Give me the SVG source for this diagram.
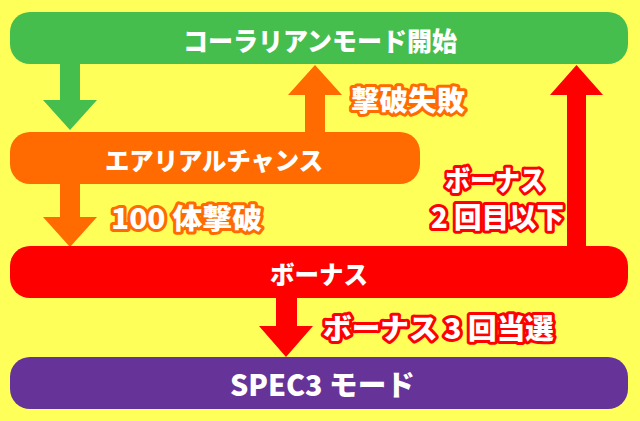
<svg xmlns="http://www.w3.org/2000/svg" width="640" height="421" viewBox="0 0 640 421">
<style>
text{font-family:"Noto Sans CJK JP","Noto Sans",sans-serif;font-weight:900;fill:#fff;dominant-baseline:central}
.in{font-size:25px}
.lo{font-size:28px;stroke:#FF6B00;stroke-width:6;stroke-linejoin:round;paint-order:stroke}
.lr{font-size:28px;stroke:#FF0000;stroke-width:6;stroke-linejoin:round;paint-order:stroke}
</style>
<rect width="640" height="421" fill="#FFFF5A"/>
<g id="connectors">
<polygon fill="#45BE4E" points="60,62 80,62 80,100 97,100 70,130 43,100 60,100"/>
<polygon fill="#FF6B00" points="60,182 80,182 80,217 97,217 70,247 43,217 60,217"/>
<polygon fill="#FF6B00" points="305,134 325,134 325,95 342,95 315,65 288,95 305,95"/>
<polygon fill="#FF0000" points="567,248 586,248 586,95 603,95 576.5,65 550,95 567,95"/>
<polygon fill="#FF0000" points="276,297 297,297 297,326 313,326 286,357 259,326 276,326"/>
</g>
<g id="labels">
<text class="lo" x="351" y="98.5" textLength="114" lengthAdjust="spacingAndGlyphs">撃破失敗</text>
<text class="lo" x="111" y="216.5" textLength="151" lengthAdjust="spacingAndGlyphs">100 体撃破</text>
<text class="lr" x="445" y="178.5" textLength="100" lengthAdjust="spacingAndGlyphs">ボーナス</text>
<text class="lr" x="431" y="216" textLength="133" lengthAdjust="spacingAndGlyphs">2 回目以下</text>
<text class="lr" x="323" y="327" textLength="231" lengthAdjust="spacingAndGlyphs">ボーナス 3 回当選</text>
</g>
<g id="node-coralian">
<rect x="10" y="12" width="618" height="52" rx="20" fill="#45BE4E"/>
<text class="in" x="183" y="39" style="font-size:26px" textLength="274" lengthAdjust="spacingAndGlyphs">コーラリアンモード開始</text>
</g>
<g id="node-aerial">
<rect x="10" y="132" width="410" height="52" rx="20" fill="#FF6B00"/>
<text class="in" x="105" y="159" textLength="218" lengthAdjust="spacingAndGlyphs">エアリアルチャンス</text>
</g>
<g id="node-bonus">
<rect x="10" y="246" width="618" height="52" rx="20" fill="#FF0000"/>
<text class="in" x="270" y="273" textLength="98" lengthAdjust="spacingAndGlyphs">ボーナス</text>
</g>
<g id="node-spec3">
<rect x="10" y="357" width="618" height="52" rx="20" fill="#663399"/>
<text class="in" x="230" y="382.5" style="font-size:29px" textLength="185" lengthAdjust="spacingAndGlyphs">SPEC3 モード</text>
</g>
</svg>
